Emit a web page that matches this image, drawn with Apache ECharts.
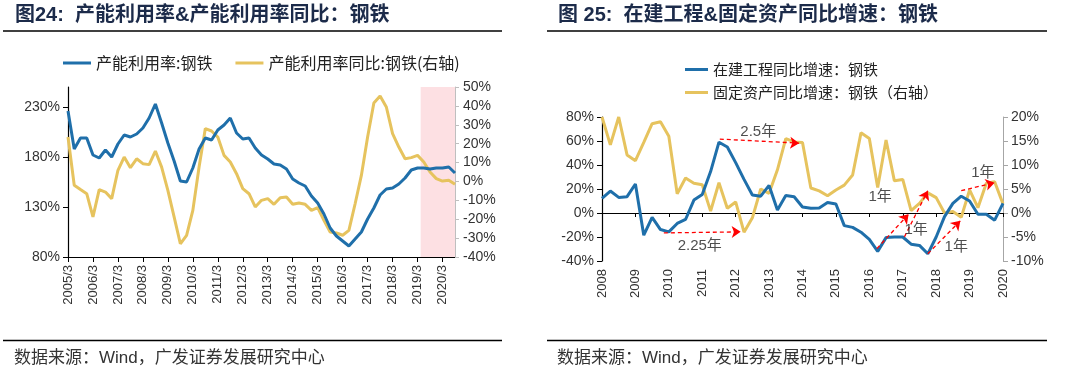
<!DOCTYPE html>
<html><head><meta charset="utf-8">
<script src="https://cdn.jsdelivr.net/npm/echarts@6/dist/echarts.min.js"></script>
<style>html,body{margin:0;padding:0;background:#fff}#c{width:1080px;height:372px}</style>
</head><body><div id="c"></div>
<script>
// ---------- Left chart (图24) data ----------
const leftYears = [2005,2006,2007,2008,2009,2010,2011,2012,2013,2014,2015,2016,2017,2018,2019,2020];
const leftMonths = [3,6,9,12];
const leftCategories = [];
leftYears.forEach(y => leftMonths.forEach(m => leftCategories.push(y + '/' + m)));
leftCategories.length = 63; // 2005/3 .. 2020/9
const leftUtil = [226,188,199,199,182,179,187,180,193,202,200,203,209,219,233,214,194,176,156,155,169,188,199,197,207,212,219,204,198,199,189,182,178,173,172,168,158,154,151,141,134,123,109,101,96,91,98,105,118,129,142,148,149,153,159,167,169,169,168,169,169,170,164];
const leftYoy = [23.5,-2,-4.3,-6.5,-18.8,-4.3,-5.6,-9.1,5.9,12.9,7.3,12,9.4,8.9,16.1,7.6,-4.7,-18.8,-33,-28.5,-15.3,7.6,28,26.7,23.5,13.8,10.3,4.1,-3.8,-6.5,-13.5,-10,-9.1,-12.1,-8.6,-8.2,-12.1,-11.4,-12.1,-15.3,-13.9,-20.6,-26.8,-27.3,-28.5,-25.9,-11.8,3.2,23.5,41.5,45.2,39.4,25.3,18.2,12,12.6,13.8,10.3,5,1.5,0.2,0.6,-1.5];
const leftShade = [56.5, 62]; // category-index range of the pink band
const leftNames = ['产能利用率:钢铁', '产能利用率同比:钢铁(右轴)'];

// ---------- Right chart (图25) data ----------
const rightYears = [2008,2009,2010,2011,2012,2013,2014,2015,2016,2017,2018,2019,2020];
const rightCategories = [];
rightYears.forEach(y => ['Q1','Q2','Q3','Q4'].forEach(q => rightCategories.push(y + q)));
rightCategories.length = 49; // 2008Q1 .. 2020Q1
const rightCIP = [12.2,18.3,13,13.6,24.2,-18.5,-3.7,-13.8,-15.7,-8.7,-5.4,10.8,15.5,34.5,59,55,42,28,15,14,23,2.5,14.5,13.5,5,4,4.2,8.7,7.5,-10.5,-12,-16,-22,-32,-20.5,-20,-20,-26,-27,-34,-20,-3,8,14,10,-1,-1,-6,8];
const rightFA = [20,14.2,20,12.1,10.9,14.7,18.6,19,16,4,7.3,6.2,5.9,0.4,6.3,1,2.3,-4,-1,5,4.1,9,15.5,14.8,14.7,5.2,4.6,3.6,4.8,5.8,7.9,16.7,15.5,5.3,15.2,6.7,7,0.5,2,4.2,3.2,0,0.3,-0.9,4.8,1.1,6.2,6.5,1.9];
const rightNames = ['在建工程同比增速：钢铁', '固定资产同比增速：钢铁（右轴）'];
// annotation arrows: [fromIndex, fromValue(left axis), toIndex, toValue(left axis)]
const rightArrows = [
  [14.1, 61.6, 23.6, 58.2],
  [7.4, -16.6, 16.6, -15.7],
  [32.9, -29.7, 36.7, -1],
  [36.2, -19.9, 39.0, 18.6],
  [39.0, -33.9, 42.9, -6.5],
  [43.0, 18.6, 47.0, 25.3]
];
// annotation texts: [index, value(left axis), text]
const rightTexts = [
  [18.7, 68, '2.5年'],
  [11.7, -27, '2.25年'],
  [33.3, 13.6, '1年'],
  [37.6, -13.8, '1年'],
  [42.4, -28.3, '1年'],
  [45.6, 33.7, '1年']
];

const BLUE = '#1F6FAA', YELLOW = '#E6C35E';
const NUM_FONT = "'Liberation Sans', Arial, 'Noto Sans CJK SC', sans-serif";
const CJK_FONT = "'Noto Sans CJK SC', 'Liberation Sans', sans-serif";
const TITLE_COLOR = '#1C2B4A';

const chart = echarts.init(document.getElementById('c'), null, {renderer: 'canvas'});

const axisLabelBase = {fontSize: 14, color: '#333', fontFamily: NUM_FONT};

const option = {
  animation: false,
  backgroundColor: '#fff',
  grid: [
    {left: 68, top: 87, width: 387, height: 170},
    {left: 602, top: 117, width: 401, height: 144}
  ],
  legend: [
    {data: leftNames, left: 58, top: 50, icon: 'rect', itemWidth: 28, itemHeight: 3, itemGap: 23,
     textStyle: {fontSize: 16, color: '#222', fontFamily: CJK_FONT}},
    {data: rightNames, orient: 'vertical', left: 680, top: 57, icon: 'rect', itemWidth: 23, itemHeight: 3, itemGap: 8,
     textStyle: {fontSize: 15, color: '#222', fontFamily: CJK_FONT}}
  ],
  xAxis: [
    {gridIndex: 0, type: 'category', data: leftCategories, boundaryGap: false, position: 'bottom',
     axisLine: {onZero: false, lineStyle: {color: '#000', width: 1.2}},
     axisTick: {show: true, interval: 3, length: 5, lineStyle: {color: '#000'}},
     axisLabel: {interval: 3, rotate: 90, fontSize: 13, color: '#333', fontFamily: NUM_FONT, margin: 8},
     splitLine: {show: false}},
    {gridIndex: 0, type: 'value', min: 0, max: 62, show: false},
    {gridIndex: 1, type: 'category', data: rightCategories, boundaryGap: false, position: 'bottom',
     axisLine: {show: false, onZero: false}, axisTick: {show: false},
     axisLabel: {interval: 3, rotate: 90, fontSize: 13, color: '#333', fontFamily: NUM_FONT, margin: 8,
                 formatter: v => v.slice(0, 4)},
     splitLine: {show: false}},
    {gridIndex: 1, type: 'category', data: rightCategories, boundaryGap: false, position: 'bottom',
     axisLine: {show: true, onZero: true, lineStyle: {color: '#000', width: 1.2}},
     axisTick: {show: true, interval: 3, length: 4, lineStyle: {color: '#000'}},
     axisLabel: {show: false}, splitLine: {show: false}},
    {gridIndex: 1, type: 'value', min: 0, max: 48, show: false}
  ],
  yAxis: [
    {gridIndex: 0, type: 'value', min: 80, max: 250, interval: 50, position: 'left',
     axisLine: {show: true, lineStyle: {color: '#000', width: 1.2}},
     axisTick: {show: true, length: 5, lineStyle: {color: '#000'}},
     axisLabel: Object.assign({formatter: '{value}%', showMaxLabel: false, margin: 8}, axisLabelBase),
     splitLine: {show: false}},
    {gridIndex: 0, type: 'value', min: -40, max: 50, interval: 10, position: 'right',
     axisLine: {show: true, lineStyle: {color: '#BFBFBF'}},
     axisTick: {show: true, length: 4, lineStyle: {color: '#BFBFBF'}},
     axisLabel: Object.assign({formatter: '{value}%', margin: 8}, axisLabelBase),
     splitLine: {show: false}},
    {gridIndex: 1, type: 'value', min: -40, max: 80, interval: 20, position: 'left',
     axisLine: {show: true, lineStyle: {color: '#000', width: 1.2}},
     axisTick: {show: true, length: 5, lineStyle: {color: '#000'}},
     axisLabel: Object.assign({formatter: '{value}%', margin: 8}, axisLabelBase),
     splitLine: {show: false}},
    {gridIndex: 1, type: 'value', min: -10, max: 20, interval: 5, position: 'right',
     axisLine: {show: true, lineStyle: {color: '#A6A6A6'}},
     axisTick: {show: true, length: 5, lineStyle: {color: '#A6A6A6'}},
     axisLabel: Object.assign({formatter: '{value}%', margin: 8}, axisLabelBase),
     splitLine: {show: false}}
  ],
  series: [
    {type: 'line', xAxisIndex: 1, yAxisIndex: 0, data: [], silent: true, z: 1,
     markArea: {silent: true, itemStyle: {color: '#FDE0E3'},
                data: [[{xAxis: leftShade[0]}, {xAxis: leftShade[1]}]]}},
    {name: leftNames[1], type: 'line', xAxisIndex: 0, yAxisIndex: 1, data: leftYoy, symbol: 'none',
     lineStyle: {width: 3, color: YELLOW}, itemStyle: {color: YELLOW}, z: 3},
    {name: leftNames[0], type: 'line', xAxisIndex: 0, yAxisIndex: 0, data: leftUtil, symbol: 'none',
     lineStyle: {width: 3, color: BLUE}, itemStyle: {color: BLUE}, z: 4},
    {name: rightNames[1], type: 'line', xAxisIndex: 2, yAxisIndex: 3, data: rightFA, symbol: 'none',
     lineStyle: {width: 3, color: YELLOW}, itemStyle: {color: YELLOW}, z: 3},
    {name: rightNames[0], type: 'line', xAxisIndex: 2, yAxisIndex: 2, data: rightCIP, symbol: 'none',
     lineStyle: {width: 3, color: BLUE}, itemStyle: {color: BLUE}, z: 4},
    {type: 'lines', coordinateSystem: 'cartesian2d', xAxisIndex: 4, yAxisIndex: 2, silent: true, z: 5,
     symbol: ['none', 'arrow'], symbolSize: 9,
     lineStyle: {color: '#FF0000', width: 1.3, type: [4, 3], opacity: 1},
     data: rightArrows.map(a => ({coords: [[a[0], a[1]], [a[2], a[3]]]}))},
    {type: 'scatter', xAxisIndex: 4, yAxisIndex: 2, silent: true, z: 6, symbolSize: 0,
     data: rightTexts.map(t => ({value: [t[0], t[1]], name: t[2]})),
     label: {show: true, position: 'inside', formatter: '{b}', fontSize: 15, color: '#222', fontFamily: NUM_FONT}}
  ],
  graphic: [
    {type: 'text', x: 15, y: 15, style: {text: '图24:  产能利用率&产能利用率同比：钢铁', font: "bold 20px 'Liberation Sans','Noto Sans CJK SC'", fill: TITLE_COLOR, verticalAlign: 'middle'}},
    {type: 'line', shape: {x1: 3, y1: 31, x2: 502, y2: 31}, style: {stroke: '#000', lineWidth: 1.5}},
    {type: 'line', shape: {x1: 3, y1: 340.5, x2: 502, y2: 340.5}, style: {stroke: '#000', lineWidth: 1.5}},
    {type: 'text', x: 14, y: 358, style: {text: '数据来源：Wind，广发证券发展研究中心', font: "17px 'Liberation Sans','Noto Sans CJK SC'", fill: '#333', verticalAlign: 'middle'}},
    {type: 'text', x: 558, y: 15, style: {text: '图 25:  在建工程&固定资产同比增速：钢铁', font: "bold 20px 'Liberation Sans','Noto Sans CJK SC'", fill: TITLE_COLOR, verticalAlign: 'middle'}},
    {type: 'line', shape: {x1: 547, y1: 31, x2: 1047, y2: 31}, style: {stroke: '#000', lineWidth: 1.5}},
    {type: 'line', shape: {x1: 547, y1: 340.5, x2: 1047, y2: 340.5}, style: {stroke: '#000', lineWidth: 1.5}},
    {type: 'text', x: 557, y: 358, style: {text: '数据来源：Wind，广发证券发展研究中心', font: "17px 'Liberation Sans','Noto Sans CJK SC'", fill: '#333', verticalAlign: 'middle'}}
  ]
};
chart.setOption(option);
</script>
</body></html>
